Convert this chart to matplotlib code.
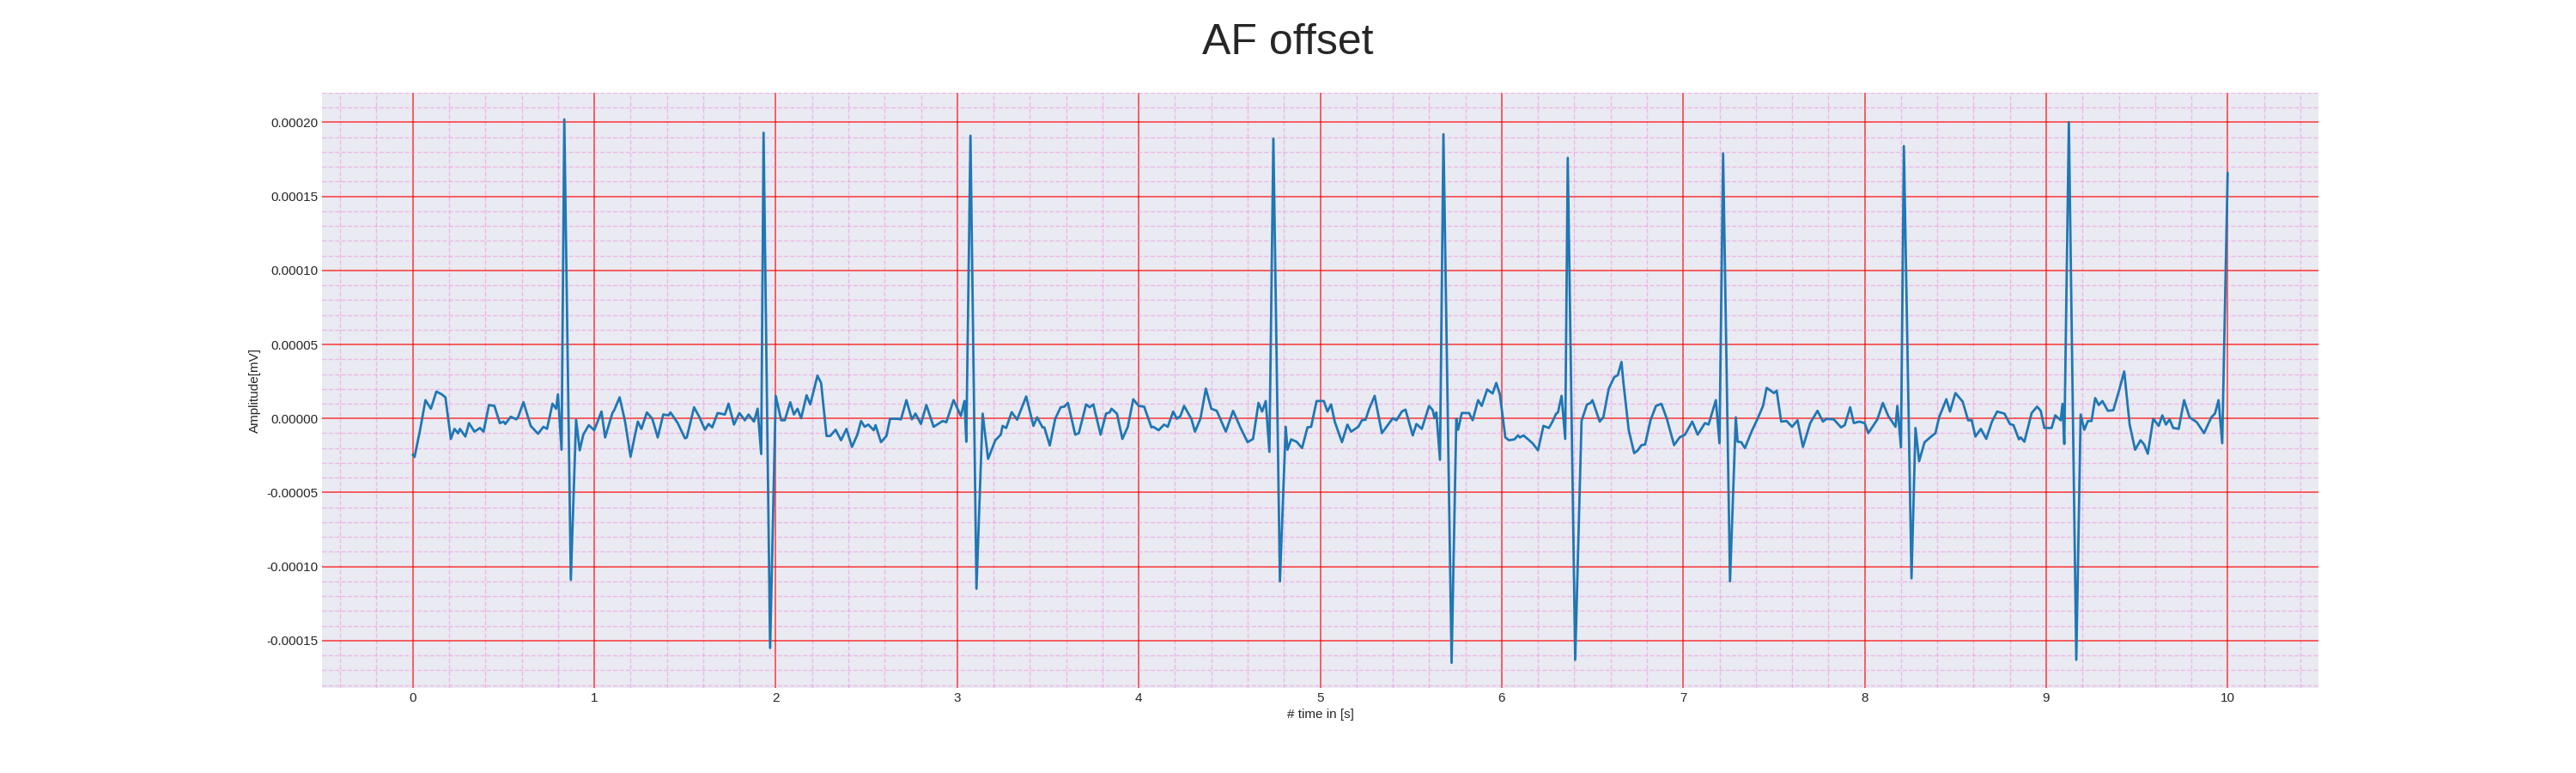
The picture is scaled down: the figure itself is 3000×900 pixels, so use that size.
import matplotlib.pyplot as plt
import numpy as np
from matplotlib.ticker import MultipleLocator

# time [s] and amplitude in units of 1e-5 mV
t = [0.00, 0.01, 0.04, 0.07, 0.10, 0.13, 0.16, 0.18, 0.21, 0.23, 0.25, 0.26, 0.29, 0.31, 0.34, 0.37, 0.39,
     0.42, 0.45, 0.48, 0.50, 0.51, 0.54, 0.57, 0.58, 0.61, 0.65, 0.69, 0.72, 0.74, 0.77, 0.79, 0.80, 0.82,
     0.835, 0.871,
     0.90, 0.92, 0.94, 0.97, 1.00, 1.04, 1.06, 1.10, 1.11, 1.14, 1.17, 1.20, 1.24, 1.26, 1.29, 1.32, 1.35,
     1.38, 1.41, 1.42, 1.46, 1.50, 1.51, 1.55, 1.58, 1.61, 1.63, 1.65, 1.68, 1.72, 1.74, 1.77, 1.80, 1.83,
     1.85, 1.88, 1.90, 1.92,
     1.933, 1.969,
     2.00, 2.03, 2.05, 2.08, 2.10, 2.12, 2.14, 2.17, 2.19, 2.23, 2.25, 2.28, 2.30, 2.33, 2.36, 2.39, 2.42,
     2.45, 2.47, 2.49, 2.51, 2.54, 2.55, 2.58, 2.61, 2.63, 2.67, 2.69, 2.72, 2.75, 2.77, 2.80, 2.83, 2.87,
     2.92, 2.94, 2.98, 3.02, 3.04, 3.05,
     3.073, 3.106,
     3.14, 3.17, 3.21, 3.24, 3.25, 3.27, 3.30, 3.33, 3.38, 3.42, 3.44, 3.47, 3.48, 3.51, 3.54, 3.57, 3.59,
     3.61, 3.65, 3.67, 3.71, 3.73, 3.75, 3.79, 3.82, 3.84, 3.85, 3.88, 3.91, 3.94, 3.97, 4.00, 4.03, 4.07,
     4.08, 4.11, 4.14, 4.16, 4.19, 4.21, 4.23, 4.25, 4.29, 4.31, 4.34, 4.37, 4.40, 4.43, 4.48, 4.52, 4.56,
     4.60, 4.63, 4.66, 4.68, 4.70, 4.72,
     4.742, 4.778,
     4.81, 4.82, 4.84, 4.87, 4.90, 4.93, 4.95, 4.98, 5.00, 5.02, 5.04, 5.06, 5.08, 5.12, 5.15, 5.17, 5.21,
     5.23, 5.25, 5.27, 5.30, 5.34, 5.40, 5.42, 5.45, 5.47, 5.51, 5.53, 5.56, 5.60, 5.62, 5.63, 5.64, 5.66,
     5.679, 5.724,
     5.75, 5.76, 5.78, 5.82, 5.84, 5.87, 5.89, 5.92, 5.95, 5.97, 5.99, 6.02, 6.04, 6.07, 6.09, 6.10, 6.12,
     6.17, 6.20, 6.23, 6.26, 6.28, 6.30, 6.31, 6.33, 6.35,
     6.364, 6.405,
     6.44, 6.47, 6.49, 6.50, 6.54, 6.56, 6.59, 6.62, 6.64, 6.66, 6.67, 6.70, 6.73, 6.75, 6.77, 6.79, 6.82,
     6.85, 6.88, 6.91, 6.95, 6.98, 7.01, 7.05, 7.08, 7.12, 7.14, 7.16, 7.18, 7.20,
     7.22, 7.258,
     7.29, 7.30, 7.32, 7.34, 7.38, 7.41, 7.44, 7.46, 7.50, 7.515, 7.54, 7.57, 7.60, 7.63, 7.66, 7.70, 7.74,
     7.77, 7.79, 7.83, 7.87, 7.89, 7.92, 7.94, 7.97, 8.00, 8.02, 8.07, 8.10, 8.13, 8.17, 8.18, 8.20,
     8.216, 8.258,
     8.28, 8.30, 8.33, 8.37, 8.39, 8.41, 8.45, 8.47, 8.50, 8.54, 8.57, 8.59, 8.61, 8.64, 8.67, 8.70, 8.73,
     8.77, 8.80, 8.82, 8.85, 8.86, 8.88, 8.92, 8.95, 8.97, 8.99, 9.03, 9.05, 9.08, 9.09, 9.10,
     9.125, 9.166,
     9.19, 9.21, 9.23, 9.25, 9.27, 9.29, 9.31, 9.34, 9.37, 9.40, 9.43, 9.46, 9.49, 9.52, 9.54, 9.56, 9.59,
     9.62, 9.64, 9.66, 9.68, 9.70, 9.73, 9.76, 9.79, 9.83, 9.87, 9.91, 9.93, 9.95, 9.97, 10.00]

amp = [-2.44, -2.6, -0.8, 1.24, 0.66, 1.82, 1.63, 1.43, -1.38, -0.7, -1.0, -0.7, -1.22, -0.31, -0.89, -0.64, -0.89,
       0.91, 0.85, -0.31, -0.21, -0.37, 0.12, -0.06, 0.08, 1.1, -0.5, -1.03, -0.56, -0.7, 1.0, 0.66, 1.63, -2.11,
       20.2, -10.9,
       -0.08, -2.15, -1.08, -0.45, -0.79, 0.47, -1.28, 0.37, 0.56, 1.43, -0.21, -2.58, -0.21, -0.7, 0.41, -0.02, -1.28,
       0.27, 0.21, 0.41, -0.31, -1.34, -1.28, 0.76, 0.08, -0.76, -0.37, -0.6, 0.37, 0.27, 1.0, -0.41, 0.37, -0.12,
       0.27, -0.21, 0.66, -2.4,
       19.3, -15.5,
       1.53, -0.12, -0.12, 1.1, 0.27, 0.66, 0.02, 1.57, 0.95, 2.89, 2.4, -1.18, -1.18, -0.76, -1.47, -0.7, -1.92,
       -1.09, -0.17, -0.56, -0.41, -0.79, -0.45, -1.6, -1.18, -0.02, -0.02, -0.06, 1.24, -0.06, 0.33, -0.37, 0.91, -0.56,
       -0.17, -0.25, 1.24, 0.17, 1.18, -1.57,
       19.1, -11.5,
       0.33, -2.73, -1.47, -1.09, -0.5, -0.64, 0.43, -0.08, 1.49, -0.5, 0.08, -0.6, -0.6, -1.82, -0.02, 0.76, 0.8,
       1.05, -1.09, -0.99, 0.95, 0.76, 0.95, -1.09, 0.33, 0.41, 0.66, 0.33, -1.38, -0.56, 1.3, 0.85, 0.8, -0.6,
       -0.56, -0.79, -0.41, -0.56, 0.47, -0.02, 0.17, 0.85, -0.02, -0.89, -0.02, 2.02, 0.66, 0.52, -0.89, 0.52, -0.6,
       -1.6, -1.38, 1.05, 0.47, 1.18, -2.25,
       18.9, -11.0,
       -0.56, -2.11, -1.41, -1.57, -2.0, -0.6, -0.56, 1.18, 1.18, 1.18, 0.47, 0.95, -0.21, -1.6, -0.41, -0.89, -0.56,
       -0.12, -0.08, 0.66, 1.53, -0.99, 0.02, -0.12, 0.47, 0.6, -1.14, -0.37, -0.7, 0.85, 0.56, 0.02, 0.41, -2.79,
       19.2, -16.5,
       -0.02, -0.76, 0.37, 0.37, -0.12, 1.24, 0.85, 1.96, 1.69, 2.4, 1.63, -1.28, -1.47, -1.41, -1.14, -1.28, -1.14,
       -1.67, -2.15, -0.5, -0.64, -0.21, 0.33, 0.41, 1.53, -1.38,
       17.6, -16.3,
       -0.17, 0.95, 1.05, 1.24, -0.21, 0.08, 2.02, 2.79, 2.93, 3.82, 2.5, -0.79, -2.34, -2.15, -1.8, -1.76, -0.12,
       0.85, 0.99, -0.02, -1.8, -1.28, -1.09, -0.21, -1.09, -0.31, -0.41, 0.41, 1.24, -1.67,
       17.9, -11.0,
       0.08, -1.57, -1.6, -2.0, -0.79, -0.02, 0.85, 2.07, 1.72, 1.88, -0.21, -0.17, -0.56, -0.12, -1.92, -0.31, 0.52,
       -0.21, -0.02, -0.06, -0.6, -0.45, 0.76, -0.31, -0.21, -0.31, -0.99, -0.06, 1.05, 0.17, -0.56, 0.85, -1.96,
       18.4, -10.8,
       -0.64, -2.89, -1.6, -1.18, -0.99, 0.08, 1.3, 0.47, 1.72, 1.14, -0.12, -0.12, -1.22, -0.7, -1.38, -0.25, 0.47,
       0.33, -0.37, -0.45, -1.41, -1.28, -1.57, 0.37, 0.8, 0.52, -0.64, -0.64, 0.21, -0.12, 0.99, -1.72,
       20.0, -16.3,
       0.27, -0.76, -0.17, -0.17, 1.38, 0.91, 1.18, 0.52, 0.56, 1.82, 3.18, -0.41, -2.11, -1.47, -1.76, -2.38, -0.02,
       -0.5, 0.21, -0.41, -0.06, -0.64, -0.7, 1.24, 0.08, -0.25, -0.99, 0.08, 0.33, 1.24, -1.67, 16.6]

t = np.array(t)
amp = np.array(amp) * 1e-5

plt.style.use('seaborn-v0_8-darkgrid')
plt.rcParams['axes.unicode_minus'] = False
fig, ax = plt.subplots(figsize=(30, 9), dpi=100)
fig.suptitle('AF offset', fontsize=36, y=0.97)

ax.plot(t, amp, color='#1f77b4', linewidth=2)

ax.set_xlim(-0.5, 10.5)
ax.set_ylim(-0.000182, 0.00022)
ax.set_xticks(np.arange(0, 11, 1))
ax.set_yticks(np.arange(-0.00015, 0.00021, 0.00005))
ax.xaxis.set_minor_locator(MultipleLocator(0.2))
ax.yaxis.set_minor_locator(MultipleLocator(0.00001))
ax.grid(which='major', color='red', linewidth=1.2, alpha=0.7)
ax.grid(which='minor', color='#ee88dd', linestyle='--', linewidth=1, alpha=0.5)
ax.tick_params(labelsize=11)
ax.set_xlabel('# time in [s]', fontsize=11)
ax.set_ylabel('Amplitude[mV]', fontsize=11)

plt.savefig('out.png')
